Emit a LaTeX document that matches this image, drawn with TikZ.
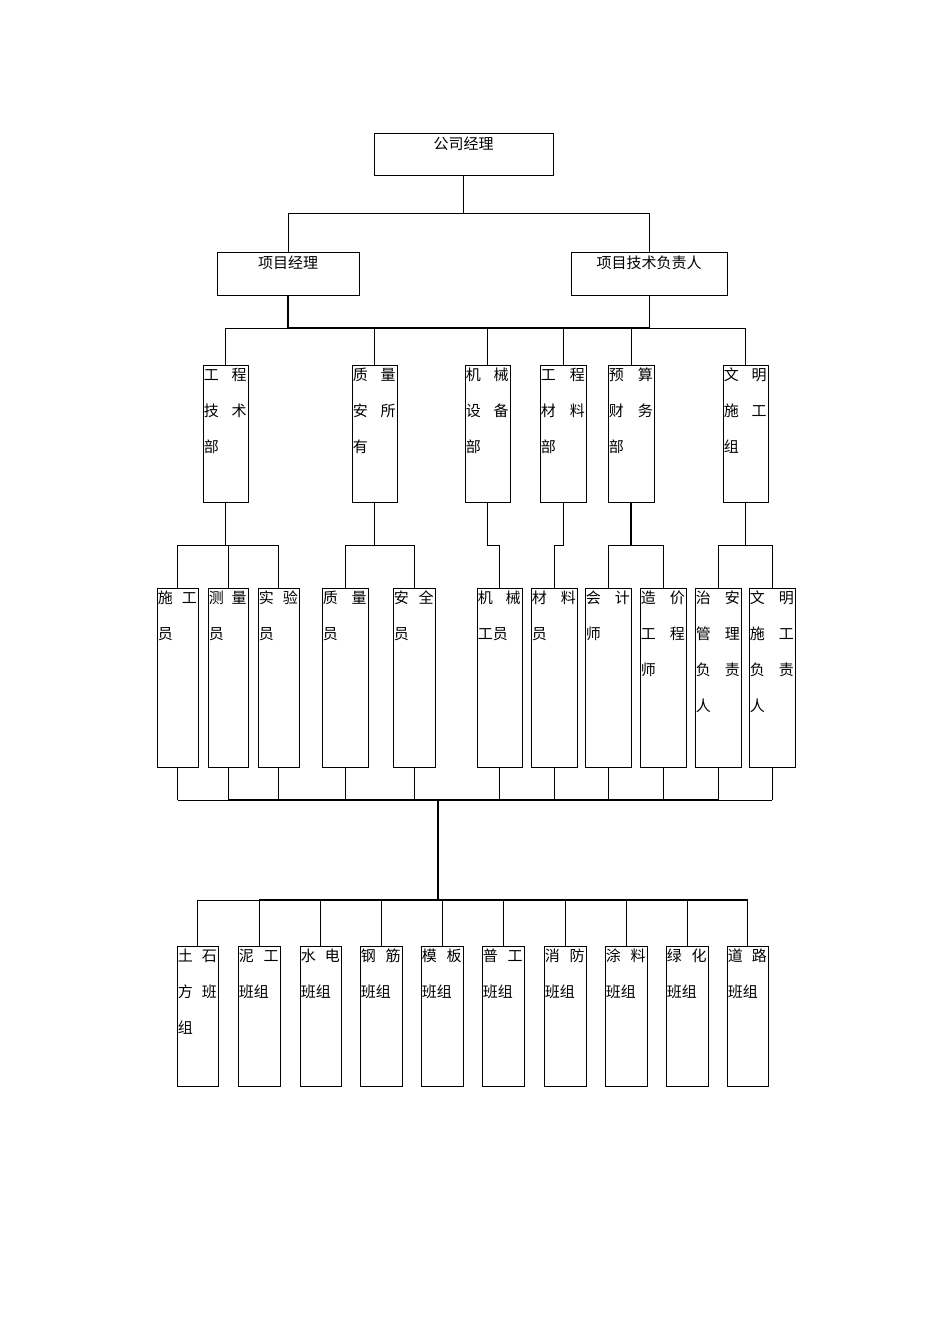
\documentclass[tikz,border=0pt]{standalone}
\usepackage{fontspec}
\setmainfont{Noto Sans CJK SC}
\begin{document}
\begin{tikzpicture}[x=1pt,y=-1pt,
  box/.style={draw,line width=0.9pt,inner sep=0pt},
  txt/.style={inner sep=1pt,anchor=north west,align=left,font=\fontsize{15}{36}\selectfont},
  ln/.style={line width=0.9pt}]
\useasboundingbox (0,0) rectangle (950,1344);
\newcommand\bx[6]{%
  \pgfmathsetmacro\bw{#4-#2}\pgfmathsetmacro\bh{#5-#3}%
  \node[box,minimum width=\bw pt,minimum height=\bh pt] (#1) at ({(#2+#4)/2},{(#3+#5)/2}) {};
  \pgfmathsetmacro\tw{#4-#2-2}%
  \node[txt,text width=\tw pt] at ([yshift=-2pt]#1.north west) {#6};}
\newcommand\cb[6]{%
  \pgfmathsetmacro\bw{#4-#2}\pgfmathsetmacro\bh{#5-#3}%
  \node[box,minimum width=\bw pt,minimum height=\bh pt] (#1) at ({(#2+#4)/2},{(#3+#5)/2}) {};
  \node[font=\fontsize{15}{15}\selectfont,anchor=north,inner sep=0pt] at ([yshift=-4pt]#1.north) {#6};}
% level 1,2
\cb{top}{374}{133}{553}{175}{公司经理}
\cb{pm}{217}{252}{359}{295}{项目经理}
\cb{pt}{571}{252}{727}{295}{项目技术负责人}
% level 3
\bx{d1}{203}{365}{248}{502}{工\hfill 程\\技\hfill 术\\部}
\bx{d2}{352}{365}{397}{502}{质\hfill 量\\安\hfill 所\\有}
\bx{d3}{465}{365}{510}{502}{机\hfill 械\\设\hfill 备\\部}
\bx{d4}{540}{365}{586}{502}{工\hfill 程\\材\hfill 料\\部}
\bx{d5}{608}{365}{654}{502}{预\hfill 算\\财\hfill 务\\部}
\bx{d6}{723}{365}{768}{502}{文\hfill 明\\施\hfill 工\\组}
% level 4
\bx{e1}{157}{588}{198}{767}{施\hfill 工\\员}
\bx{e2}{208}{588}{248}{767}{测\hfill 量\\员}
\bx{e3}{258}{588}{299}{767}{实\hfill 验\\员}
\bx{e4}{322}{588}{368}{767}{质\hfill 量\\员}
\bx{e5}{393}{588}{435}{767}{安\hfill 全\\员}
\bx{e6}{477}{588}{522}{767}{机\hfill 械\\工员}
\bx{e7}{531}{588}{577}{767}{材\hfill 料\\员}
\bx{e8}{585}{588}{631}{767}{会\hfill 计\\师}
\bx{e9}{640}{588}{686}{767}{造\hfill 价\\工\hfill 程\\师}
\bx{e10}{695}{588}{741}{767}{治\hfill 安\\管\hfill 理\\负\hfill 责\\人}
\bx{e11}{749}{588}{795}{767}{文\hfill 明\\施\hfill 工\\负\hfill 责\\人}
% level 5
\bx{f1}{177}{946}{218}{1086}{土\hfill 石\\方\hfill 班\\组}
\bx{f2}{238}{946}{280}{1086}{泥\hfill 工\\班组}
\bx{f3}{300}{946}{341}{1086}{水\hfill 电\\班组}
\bx{f4}{360}{946}{402}{1086}{钢\hfill 筋\\班组}
\bx{f5}{421}{946}{463}{1086}{模\hfill 板\\班组}
\bx{f6}{482}{946}{524}{1086}{普\hfill 工\\班组}
\bx{f7}{544}{946}{586}{1086}{消\hfill 防\\班组}
\bx{f8}{605}{946}{647}{1086}{涂\hfill 料\\班组}
\bx{f9}{666}{946}{708}{1086}{绿\hfill 化\\班组}
\bx{f10}{727}{946}{768}{1086}{道\hfill 路\\班组}
% connectors level 1-2
\draw[ln] (top.south) -- (top.south |- 0,213);
\draw[ln] (pm.north) |- (pt.north |- 0,213) -- (pt.north);
% level 2-3
\draw[line width=1.6pt] (pm.south) -- (pm.south |- 0,328);
\draw[ln] (pt.south) -- (pt.south |- 0,328);
\draw[ln] (d1.north) |- (d6.north |- 0,328) -- (d6.north);
\draw[line width=1.6pt] (pm.south |- 0,328) -- (pt.south |- 0,328);
\foreach \d in {d2,d3,d4,d5} \draw[ln] (\d.north) -- (\d.north |- 0,328);
% level 3-4
\draw[line width=1.4pt] (d1.south) -- (d1.south |- 0,545);
\draw[ln] (e1.north) |- (e3.north |- 0,545) -- (e3.north);
\draw[ln] (e2.north) -- (e2.north |- 0,545);
\draw[line width=1.4pt] (d2.south) -- (d2.south |- 0,545);
\draw[ln] (e4.north) |- (e5.north |- 0,545) -- (e5.north);
\draw[ln] (d3.south) |- (e6.north |- 0,545) -- (e6.north);
\draw[ln] (d4.south) |- (e7.north |- 0,545) -- (e7.north);
\draw[line width=1.4pt] (d5.south) -- (d5.south |- 0,545);
\draw[ln] (e8.north) |- (e9.north |- 0,545) -- (e9.north);
\draw[line width=1.4pt] (d6.south) -- (d6.south |- 0,545);
\draw[ln] (e10.north) |- (e11.north |- 0,545) -- (e11.north);
% level 4 - 5
\foreach \e in {e1,e2,e3,e4,e5,e6,e7,e8,e9,e10,e11} \draw[ln] (\e.south) -- (\e.south |- 0,800);
\draw[ln] (e1.south |- 0,800) -- (e11.south |- 0,800);
\draw[line width=1.4pt] (e2.south |- 0,800) -- (e10.south |- 0,800);
\coordinate (hub) at (438,800);
\draw[line width=2pt] (hub) -- (hub |- 0,900);
\draw[ln] (f1.north) |- (f10.north |- 0,900) -- (f10.north);
\draw[line width=1.4pt] (f2.north |- 0,900) -- (f10.north |- 0,900);
\foreach \f in {f2,f3,f4,f5,f6,f7,f8,f9} \draw[ln] (\f.north) -- (\f.north |- 0,900);
\end{tikzpicture}
\end{document}
